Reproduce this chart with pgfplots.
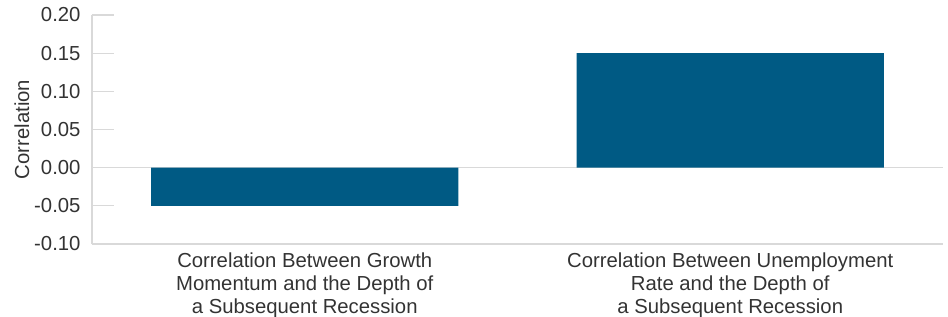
\documentclass[border=0pt]{standalone}
\usepackage{pgfplots}
\pgfplotsset{compat=1.18}
\usepackage{fontspec}
\setmainfont{Liberation Sans}
\definecolor{barblue}{HTML}{005A84}
\definecolor{axgray}{HTML}{D9D9D9}
\definecolor{txt}{HTML}{333333}
\begin{document}
\begin{tikzpicture}
\begin{axis}[
  at={(0,0)}, anchor=south west,
  scale only axis, width=851bp, height=229bp,
  xmin=-0.5, xmax=1.5, ymin=-0.10, ymax=0.20,
  axis x line*=bottom, axis y line*=left,
  axis line style={axgray, line width=1.2bp, -},
  ybar, bar width=0.722, bar shift=0pt,
  xtick={0,1},
  xticklabels={{Correlation Between Growth\\Momentum and the Depth of\\a Subsequent Recession},
               {Correlation Between Unemployment\\Rate and the Depth of\\a Subsequent Recession}},
  x tick label style={align=center, font=\fontsize{20.3bp}{23bp}\selectfont, text=txt, yshift=-5.5bp},
  x tick style={draw=none},
  ytick={-0.10,-0.05,0,0.05,0.10,0.15,0.20},
  yticklabels={-0.10,-0.05,0.00,0.05,0.10,0.15,0.20},
  y tick label style={font=\fontsize{20.3bp}{23bp}\selectfont, text=txt, xshift=-8bp},
  y tick style={axgray, line width=1.2bp},
  major tick length=22bp,
  tick align=inside,
  extra y ticks={0},
  extra y tick labels={},
  extra y tick style={grid=major, major grid style={axgray, line width=1.2bp}, major tick length=0pt},
  ylabel={Correlation},
  every axis y label/.style={at={(axis description cs:-0.0823,0.5)}, anchor=center, rotate=90,
    font=\fontsize{20.3bp}{23bp}\selectfont, text=txt},
  clip=false,
]
\addplot[fill=barblue, draw=none] coordinates {(0,-0.05) (1,0.15)};
\end{axis}
\pgfresetboundingbox
\useasboundingbox (-92bp,-73bp) rectangle (856bp,244bp);
\end{tikzpicture}
\end{document}
